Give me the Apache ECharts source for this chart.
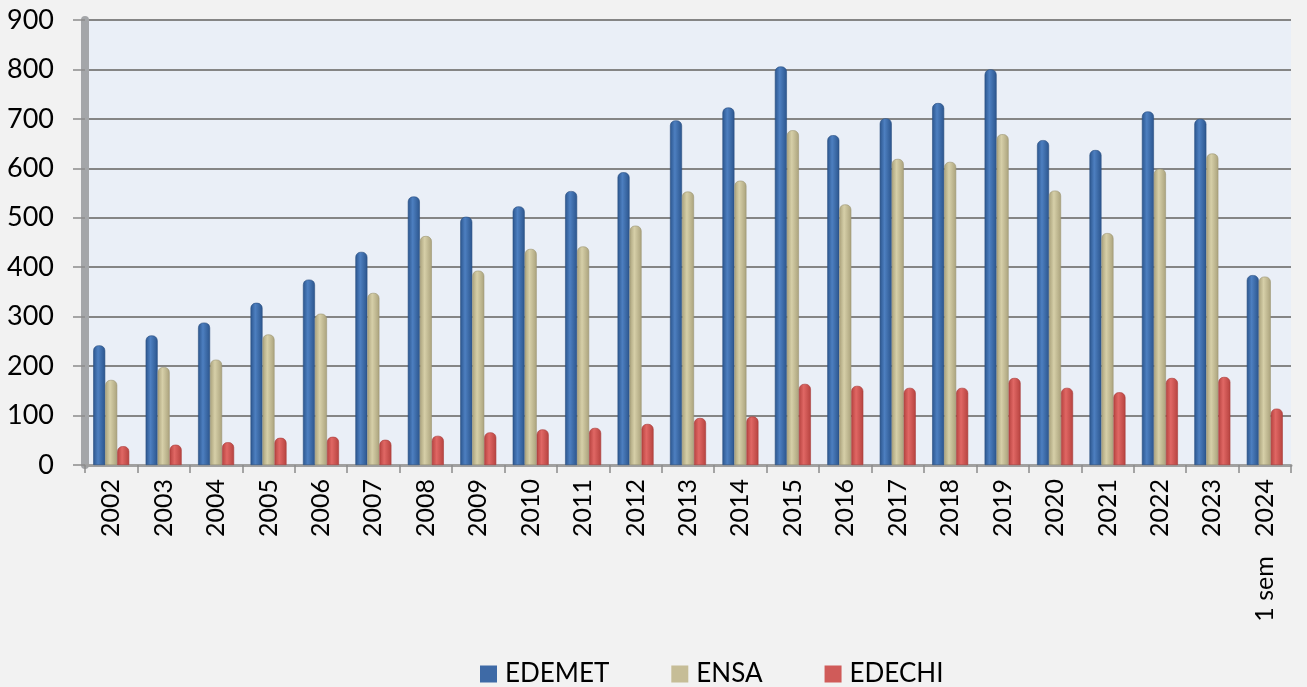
<!DOCTYPE html>
<html>
<head>
<meta charset="utf-8">
<script src="https://cdn.jsdelivr.net/npm/echarts@6/dist/echarts.min.js"></script>
<style>
  html, body { margin: 0; padding: 0; background: #f2f2f2; }
  #main { width: 1307px; height: 687px; }
</style>
</head>
<body>
<div id="main"></div>
<script>
// categorías y valores
var years = ['2002', '2003', '2004', '2005', '2006', '2007', '2008', '2009', '2010', '2011', '2012',
  '2013', '2014', '2015', '2016', '2017', '2018', '2019', '2020', '2021', '2022', '2023', '1 sem   2024'];
var edemet = [242, 262, 288, 328, 375, 431, 543, 502, 523, 554, 592, 697, 723, 806, 667, 701, 732, 800, 657, 637, 715, 700, 384];
var ensa = [172, 198, 213, 264, 306, 348, 463, 393, 437, 442, 484, 553, 575, 677, 527, 619, 613, 669, 555, 469, 599, 630, 381];
var edechi = [38, 41, 46, 55, 57, 51, 59, 66, 72, 75, 83, 95, 98, 164, 160, 156, 156, 176, 156, 147, 176, 178, 114];
var yTicks = [0, 100, 200, 300, 400, 500, 600, 700, 800, 900];

var myChart = echarts.init(document.getElementById('main'));

// sombreado tipo cilindro
function cyl(edge, mid) {
    return new echarts.graphic.LinearGradient(0, 0, 1, 0, [
        {offset: 0, color: edge},
        {offset: 0.4, color: mid},
        {offset: 1, color: edge}
    ]);
}

function serie(name, data, edge, mid, border) {
    return {
        name: name,
        type: 'bar',
        data: data,
        barWidth: 12,
        barGap: 0,
        itemStyle: {
            color: cyl(edge, mid),
            borderColor: border,
            borderWidth: 0.6,
            borderRadius: [5, 5, 0, 0]
        }
    };
}

var option = {
    backgroundColor: '#f2f2f2',
    animation: false,
    textStyle: {fontFamily: 'Lato'},
    grid: {
        left: 85,
        right: 16,
        top: 20,
        bottom: 222,
        show: true,
        backgroundColor: '#eaeff7',
        borderWidth: 0
    },
    legend: {
        left: 475,
        top: 656,
        itemWidth: 17,
        itemHeight: 17,
        itemGap: 62,
        icon: 'rect',
        textStyle: {fontFamily: 'Lato', fontSize: 26, color: '#000', padding: [0, 0, 0, 3]},
        data: [
            {name: 'EDEMET', itemStyle: {color: '#3e6aa6', borderWidth: 0}},
            {name: 'ENSA', itemStyle: {color: '#c6bd97', borderWidth: 0}},
            {name: 'EDECHI', itemStyle: {color: '#d05b59', borderWidth: 0}}
        ]
    },
    xAxis: {
        type: 'category',
        data: years,
        axisLine: {lineStyle: {color: '#a0a0a0', width: 3}},
        axisTick: {show: true, length: 8, lineStyle: {color: '#8c8c8c', width: 1.5}},
        axisLabel: {
            rotate: 90,
            margin: 14,
            interval: 0,
            fontFamily: 'Lato',
            fontSize: 25,
            color: '#000'
        }
    },
    yAxis: {
        type: 'value',
        min: yTicks[0],
        max: yTicks[yTicks.length - 1],
        interval: 100,
        axisLine: {show: true, lineStyle: {color: '#a4a6a9', width: 8}},
        axisTick: {show: true, length: 12, lineStyle: {color: '#8c8c8c', width: 1.5}},
        axisLabel: {margin: 31, fontFamily: 'Lato', fontSize: 27, color: '#000'},
        splitLine: {show: true, lineStyle: {color: '#858585', width: 2}}
    },
    series: [
        serie('EDEMET', edemet, '#2b558d', '#4d7fc0', '#2a4f82'),
        serie('ENSA', ensa, '#aaa27c', '#d6cfa8', '#9c9574'),
        serie('EDECHI', edechi, '#b6423f', '#e06764', '#a83d3a')
    ]
};

myChart.setOption(option);
</script>
</body>
</html>
